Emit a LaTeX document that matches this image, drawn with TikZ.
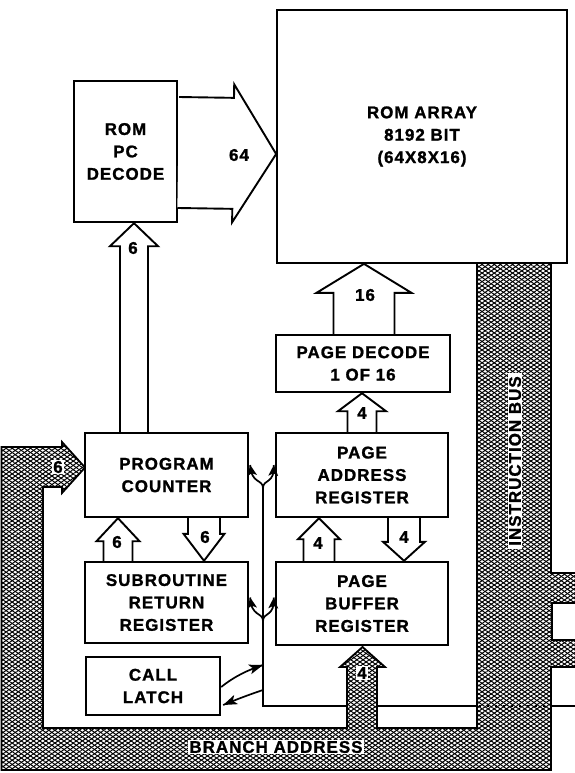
\documentclass[tikz,border=0pt]{standalone}
\usepackage{fontspec}
\setmainfont{Liberation Sans}
\usetikzlibrary{calc,patterns.meta,arrows.meta}
\newcommand\lbl{\fontsize{17}{22.5}\selectfont\bfseries\addfontfeature{LetterSpace=6,FakeBold=1.3}}
\tikzset{
  box/.style={draw, line width=2.4bp, fill=white, align=center, inner sep=0pt, font=\lbl},
  fat/.style={draw, line width=1.9bp, fill=white, line join=miter},
  lbl/.style={font=\lbl, inner sep=1pt},
  haloed/.style={font=\lbl, inner sep=1.5pt, fill=white},
  ctl/.style={line width=1.7bp},
  hatched/.style={fill=white,
    postaction={pattern={Lines[angle=35,distance=3.5bp,line width=1bp]}},
    postaction={pattern={Lines[angle=-35,distance=3.5bp,line width=1bp]}},
    postaction={draw,line width=1.8bp}},
}
\newcommand\fatarr[5]{% tail, tip, shaft half width, head half width, head length
  \coordinate (fb) at ($(#2)!#5!(#1)$);
  \filldraw[fat] ($(#1)!#3!90:(#2)$) -- ($(fb)!#3!90:(#2)$) -- ($(fb)!#4!90:(#2)$) -- (#2)
    -- ($(fb)!#4!-90:(#2)$) -- ($(fb)!#3!-90:(#2)$) -- ($(#1)!#3!-90:(#2)$);
}
% solid arrowhead: tip, point it comes from, length, half width
\newcommand\ahead[4]{%
  \coordinate (hb) at ($(#1)!#3!(#2)$);
  \fill[line join=miter] (#1) -- ($(hb)!#4!90:(#1)$) -- ($(#1)!0.75*#3!(#2)$) -- ($(hb)!#4!-90:(#1)$) -- cycle;
}
\begin{document}
\begin{tikzpicture}[x=1bp,y=-1bp]
\useasboundingbox (0,0) rectangle (575,773);

% control line (drawn first, the bus hides it)
\coordinate (j1) at (263,488);
\coordinate (j2) at (263,621);
\coordinate (c1) at (263,665);
\coordinate (c2) at (263,690);
\coordinate (cb) at (263,706);
\coordinate (cr) at (580,706);
\draw[ctl] (j1) -- (cb) -- (cr);

% buses
\path[hatched] (1.5,447) -- (62,447) -- (62,442) -- (85,467.5) -- (62,493) -- (62,487) -- (43,487)
  -- (43,728) -- (347,728) -- (347,667) -- (340,667) -- (362.5,647) -- (385,667) -- (377,667)
  -- (377,728) -- (477,728) -- (477,263) -- (551,263) -- (551,573) -- (580,573) -- (580,603)
  -- (552,603) -- (552,640) -- (580,640) -- (580,667) -- (551,667) -- (551,770) -- (1.5,770) -- cycle;
\draw[ctl, dash pattern=on 2bp off 6bp] (479,706) -- (551,706);

% boxes
\node[box, line width=1.7bp, minimum width=290bp, minimum height=253bp] (rom) at (422,136.5)
  {ROM ARRAY\\8192 BIT\\(64X8X16)};
\node[box, minimum width=103bp, minimum height=141bp] (dec) at (125.5,151.5) {ROM\\PC\\DECODE};
\node[box, minimum width=163bp, minimum height=84bp] (pc) at (166.5,475) {PROGRAM\\COUNTER};
\node[box, minimum width=163bp, minimum height=81bp] (srr) at (166.5,602.5) {SUBROUTINE\\RETURN\\REGISTER};
\node[box, minimum width=134bp, minimum height=58bp] (call) at (153,686) {CALL\\LATCH};
\node[box, minimum width=172bp, minimum height=84bp] (par) at (362,475) {PAGE\\ADDRESS\\REGISTER};
\node[box, minimum width=172bp, minimum height=83bp] (pbr) at (362,603.5) {PAGE\\BUFFER\\REGISTER};
\node[box, minimum width=174bp, minimum height=57bp] (pdec) at (363,363.5) {PAGE DECODE\\1 OF 16};

% wide arrows
\fatarr{$(dec.east)+(0,1)$}{$(rom.west)+(0,17.5)$}{55.5bp}{69bp}{43bp}
\fatarr{$(pc.north)+(-32.5,0)$}{$(dec.south)+(8.5,0)$}{14bp}{24bp}{23bp}
\fatarr{$(srr.north)+(-48.5,0)$}{$(pc.south)+(-48.5,0)$}{14.5bp}{21.5bp}{23bp}
\fatarr{$(pc.south)+(37.5,0)$}{$(srr.north)+(37.5,0)$}{16bp}{20.5bp}{27bp}
\fatarr{$(pbr.north)+(-43,0)$}{$(par.south)+(-43,0)$}{15.5bp}{21bp}{21bp}
\fatarr{$(par.south)+(42,0)$}{$(pbr.north)+(42,0)$}{16bp}{21bp}{19bp}
\fatarr{par.north}{$(pdec.south)+(-1,0)$}{14.5bp}{24bp}{18bp}
\fatarr{$(pdec.north)+(1,0)$}{$(rom.south)+(-58,0)$}{30.5bp}{47.5bp}{29bp}

% arrow labels
\node[lbl] (l64) at (239,155) {64};
\node[lbl] (l6a) at (133,248) {6};
\node[lbl] (l6b) at (117,542) {6};
\node[lbl] (l6c) at (205,537) {6};
\node[lbl] (l4a) at (318,543) {4};
\node[lbl] (l4b) at (404,537) {4};
\node[lbl] (l4c) at (362,413) {4};
\node[lbl] (l16) at (365,295) {16};
\node[haloed] (l6d) at (58,467) {6};
\node[haloed] (l4d) at (362,673) {4};
\node[haloed] (ba) at (276,747) {BRANCH ADDRESS};
\node[haloed, rotate=90, inner xsep=3pt] (ib) at (515,461) {INSTRUCTION BUS};

% control forks
\coordinate (f1l) at ($(pc.east)+(1,-10)$);
\coordinate (f1r) at ($(par.west)+(-1,-10)$);
\coordinate (f2l) at ($(srr.east)+(1,-5)$);
\coordinate (f2r) at ($(pbr.west)+(-1,-6)$);
\draw[ctl] (j1) .. controls (263,479) and (251,484) .. (f1l);
\draw[ctl] (j1) .. controls (263,479) and (275,484) .. (f1r);
\draw[ctl] (j2) .. controls (263,612) and (251,617) .. (f2l);
\draw[ctl] (j2) .. controls (263,612) and (275,617) .. (f2r);
\ahead{f1l}{253,481}{11bp}{5bp}
\ahead{f1r}{273,481}{11bp}{5bp}
\ahead{f2l}{253,614}{11bp}{5bp}
\ahead{f2r}{273,614}{11bp}{5bp}
% call latch
\coordinate (cl1) at ($(call.east)+(0,1)$);
\coordinate (cl2) at ($(call.east)+(2,19)$);
\draw[ctl] (cl1) .. controls (235,676) and (248,670) .. (c1);
\draw[ctl] (c2) .. controls (248,695) and (235,700) .. (cl2);
\ahead{c1}{248,670}{14bp}{5bp}
\ahead{cl2}{235,700}{14bp}{5bp}
\end{tikzpicture}
\end{document}
